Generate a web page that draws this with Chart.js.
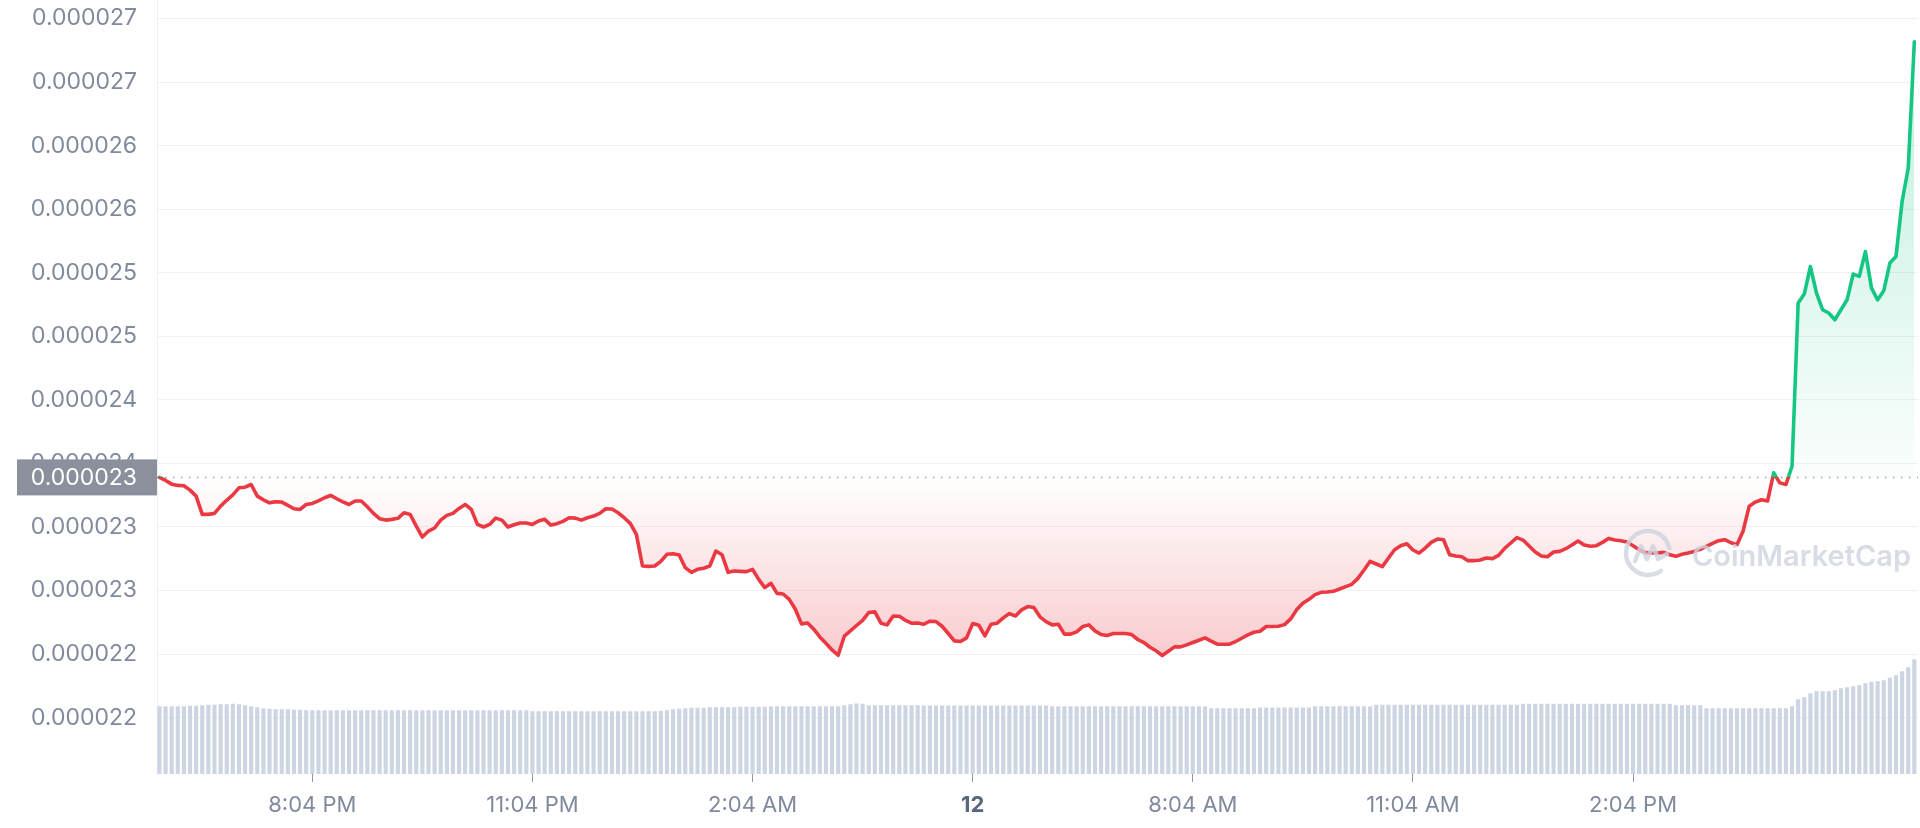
<!DOCTYPE html>
<html>
<head>
<meta charset="utf-8">
<script src="https://cdn.jsdelivr.net/npm/chart.js@4.4.1/dist/chart.umd.min.js"></script>
<style>
  html, body { margin: 0; padding: 0; background: #fff; }
  canvas { display: block; }
</style>
</head>
<body>
<canvas id="priceChart" width="1920" height="828"></canvas>
<script>
// price in USD x 1e-6, one point every 5 minutes (24h)
const price = [
  23.39, 23.366, 23.337, 23.327, 23.324, 23.29, 23.243, 23.099, 23.099, 23.107, 23.164, 23.21,
  23.253, 23.308, 23.313, 23.334, 23.243, 23.214, 23.19, 23.198, 23.196, 23.17, 23.143, 23.138,
  23.177, 23.185, 23.206, 23.23, 23.248, 23.222, 23.198, 23.177, 23.204, 23.204, 23.159, 23.107,
  23.065, 23.054, 23.06, 23.068, 23.112, 23.099, 23.007, 22.921, 22.968, 22.992, 23.054, 23.091,
  23.107, 23.146, 23.177, 23.138, 23.02, 23.0, 23.02, 23.07, 23.054, 23.0, 23.018, 23.031,
  23.031, 23.02, 23.047, 23.06, 23.015, 23.026, 23.044, 23.073, 23.07, 23.054, 23.073, 23.086,
  23.107, 23.143, 23.141, 23.112, 23.073, 23.028, 22.942, 22.693, 22.69, 22.693, 22.73, 22.785,
  22.79, 22.78, 22.68, 22.643, 22.667, 22.675, 22.693, 22.811, 22.782, 22.643, 22.654, 22.651,
  22.649, 22.667, 22.588, 22.523, 22.557, 22.478, 22.473, 22.431, 22.353, 22.238, 22.245, 22.196,
  22.135, 22.086, 22.033, 21.991, 22.141, 22.183, 22.225, 22.266, 22.327, 22.332, 22.243, 22.23,
  22.30, 22.298, 22.266, 22.243, 22.245, 22.235, 22.259, 22.256, 22.219, 22.162, 22.104, 22.099,
  22.128, 22.24, 22.227, 22.143, 22.235, 22.243, 22.285, 22.319, 22.30, 22.348, 22.374, 22.366,
  22.293, 22.256, 22.23, 22.235, 22.157, 22.157, 22.175, 22.217, 22.23, 22.183, 22.154, 22.146,
  22.162, 22.162, 22.162, 22.154, 22.115, 22.091, 22.054, 22.026, 21.989, 22.023, 22.057, 22.057,
  22.073, 22.091, 22.109, 22.128, 22.102, 22.078, 22.078, 22.078, 22.099, 22.125, 22.151, 22.172,
  22.18, 22.217, 22.217, 22.219, 22.232, 22.277, 22.35, 22.40, 22.431, 22.468, 22.486, 22.489,
  22.494, 22.512, 22.531, 22.549, 22.596, 22.662, 22.73, 22.709, 22.688, 22.756, 22.821, 22.853,
  22.868, 22.819, 22.795, 22.834, 22.879, 22.905, 22.9, 22.782, 22.772, 22.766, 22.735, 22.735,
  22.74, 22.756, 22.751, 22.777, 22.832, 22.874, 22.916, 22.897, 22.85, 22.803, 22.772, 22.766,
  22.803, 22.808, 22.829, 22.858, 22.89, 22.858, 22.848, 22.853, 22.879, 22.91, 22.897, 22.892,
  22.882, 22.853, 22.821, 22.798, 22.795, 22.795, 22.8, 22.782, 22.769, 22.785, 22.795, 22.808,
  22.824, 22.848, 22.871, 22.892, 22.9, 22.876, 22.861, 22.968, 23.164, 23.196, 23.214, 23.204,
  23.426, 23.347, 23.334, 23.478, 24.761, 24.832, 25.049, 24.84, 24.709, 24.683, 24.63, 24.709,
  24.787, 24.989, 24.971, 25.167, 24.879, 24.787, 24.858, 25.076, 25.128, 25.56, 25.822, 26.817
];

// volume, relative units
const volume = [
  68, 68, 68, 68, 68, 68.5, 68.5, 69, 69.5, 69.5, 70, 70,
  70.3, 70, 69, 68, 67, 66, 65.5, 65, 65, 65, 64.5, 64.5,
  64, 64, 64, 64, 64, 64, 64, 64, 64, 64, 64, 64,
  64, 64, 64, 64, 64, 64, 64, 64, 64, 64, 64, 64,
  64, 64, 64, 64, 64, 64, 64, 64, 64, 64, 64, 64,
  64, 63, 63, 63, 63, 63, 63, 63, 63, 63, 63, 63,
  63, 63, 63, 63, 63, 63, 63, 63, 63, 63, 63.5, 64,
  65, 65.5, 66, 66.5, 66.5, 66.5, 67, 67, 67, 67, 67, 67.5,
  67.5, 67.5, 67.5, 67.5, 68, 68, 68, 68, 68, 68, 68, 68,
  68, 68, 68, 68, 69, 70, 70.6, 70.5, 69, 69, 69, 69,
  69, 69, 69, 69, 69, 68.6, 68.6, 68.6, 68.6, 68.6, 68.6, 68.6,
  68.6, 68.6, 68.6, 68.6, 68.6, 68.6, 68.6, 68.6, 68.6, 68.6, 68.6, 68.6,
  68.6, 68.6, 68, 68, 68, 68, 68, 68, 68, 68, 68, 68,
  68, 68, 68, 68, 68, 68, 68, 68, 68, 68, 68, 68,
  68, 68, 68, 68, 66, 66, 66, 66, 66, 66, 66, 66,
  66.6, 66.6, 66.6, 66.6, 66.6, 66.6, 66.6, 66.6, 66.6, 68, 68, 68,
  68, 68, 68, 68, 68, 68, 68, 69.3, 69.3, 69.3, 69.3, 69.3,
  69.3, 69.3, 69.3, 69.3, 69.3, 69.3, 69.3, 69.3, 69.3, 69.3, 69.3, 69.3,
  69.3, 69.3, 69.3, 69.3, 69.3, 69.3, 69.3, 70.5, 70.5, 70.5, 70.5, 70.5,
  70.5, 70.5, 70.5, 70.5, 70.5, 70.5, 70.5, 70.5, 70.5, 70.5, 70.5, 70.5,
  70.5, 70.5, 70.5, 70.5, 70.5, 70.5, 70.5, 70.5, 69, 69, 69, 69,
  69, 66, 66, 66, 66, 66, 66, 66, 66, 66, 66, 66,
  66, 66, 66, 68, 75, 77, 81, 83, 83, 83, 84, 86,
  87, 88, 89, 91, 92.5, 93, 94, 96.5, 99, 103, 107, 115
];

// x axis: minutes since first sample
const tickMinutes = [125, 305, 485, 665, 845, 1025, 1205];
const tickLabels = ['8:04 PM', '11:04 PM', '2:04 AM', '12', '8:04 AM', '11:04 AM', '2:04 PM'];
const priceTicks = [21.5, 22, 22.5, 23, 23.5, 24, 24.5, 25, 25.5, 26, 26.5, 27];
const openPrice = price[0];

const minutes = price.map((p, i) => i * 5);
const GREEN = '#16c784', RED = '#ea3943', GREY = '#808a9d';
const FONT = 'Inter, "Noto Sans", sans-serif';

function fmt(v) { return (Math.round(v) / 1e6).toFixed(6); }

// dotted open-price line, price badge and watermark
var extras = {
  id: 'extras',
  beforeDatasetsDraw(chart) {
    var c = chart.ctx, a = chart.chartArea;
    var y = chart.scales.y.getPixelForValue(openPrice);
    c.save();
    c.setLineDash([1.5, 6.5]);
    c.strokeStyle = '#9aa1b1';
    c.lineWidth = 1.5;
    c.beginPath(); c.moveTo(a.left, y); c.lineTo(a.right, y); c.stroke();
    c.restore();
  },
  afterDatasetsDraw(chart) {
    var c = chart.ctx;
    var cx = 1648, cy = 553;
    c.save();
    c.globalAlpha = 0.8;
    c.strokeStyle = '#cdd3df';
    c.fillStyle = '#cdd3df';
    c.lineWidth = 4.5;
    c.lineCap = 'round';
    c.lineJoin = 'round';
    c.beginPath(); c.arc(cx, cy, 22, 0.3 * Math.PI, 1.93 * Math.PI); c.stroke();
    c.beginPath();
    c.moveTo(cx - 13, cy + 8); c.lineTo(cx - 7, cy - 7); c.lineTo(cx - 1, cy + 6);
    c.lineTo(cx + 5, cy - 7); c.lineTo(cx + 10, cy + 6); c.lineTo(cx + 19, cy + 1);
    c.stroke();
    c.font = '600 29px ' + FONT;
    c.textAlign = 'right';
    c.textBaseline = 'alphabetic';
    c.fillText('CoinMarketCap', 1911, 566);
    c.restore();
  },
  afterDraw(chart) {
    var c = chart.ctx, a = chart.chartArea;
    var y = chart.scales.y.getPixelForValue(openPrice);
    c.save();
    c.fillStyle = 'rgb(139,144,156)';
    c.fillRect(17, y - 18, a.left - 17, 36);
    c.fillStyle = '#ffffff';
    c.font = '23px ' + FONT;
    c.textAlign = 'right';
    c.textBaseline = 'middle';
    c.fillText(fmt(openPrice), a.left - 20, y + 1);
    c.restore();
  }
};

var ctx = document.getElementById('priceChart').getContext('2d');

var chart = new Chart(ctx, {
  type: 'line',
  data: {
    datasets: [{
      type: 'line',
      label: 'Price',
      data: minutes.map((m, i) => ({x: m, y: price[i]})),
      yAxisID: 'y',
      borderColor: RED,
      borderWidth: 3.6,
      borderJoinStyle: 'round',
      borderCapStyle: 'round',
      pointRadius: 0,
      tension: 0,
      fill: {target: {value: openPrice}, above: 'rgba(22,199,132,0.12)', below: 'rgba(234,57,67,0.12)'},
      order: 1
    }, {
      type: 'bar',
      label: 'Volume',
      data: minutes.map((m, i) => ({x: m, y: volume[i]})),
      yAxisID: 'yv',
      backgroundColor: '#cdd4e2',
      barPercentage: 0.68,
      categoryPercentage: 1,
      order: 2
    }]
  },
  options: {
    responsive: false,
    animation: false,
    layout: {padding: {right: 2, top: 0, bottom: 0, left: 0}},
    plugins: {legend: {display: false}, tooltip: {enabled: false}},
    scales: {
      x: {
        type: 'linear', min: -2, max: 1438, offset: false,
        grid: {drawOnChartArea: false, offset: false, tickLength: 8, color: '#8f96a8'},
        border: {display: false},
        afterBuildTicks: s => { s.ticks = tickMinutes.map(v => ({value: v})); },
        afterFit: s => { s.height = 54; s.paddingLeft = 0; s.paddingRight = 0; },
        ticks: {
          autoSkip: false, maxRotation: 0, padding: 10,
          color: c => c.index === 3 ? '#58667e' : GREY,
          font: c => ({family: FONT, size: 22, weight: c.index === 3 ? 'bold' : 'normal'}),
          callback: (v, i) => tickLabels[i]
        }
      },
      y: {
        position: 'left', min: 21.057, max: 27.131,
        grid: {color: '#eff2f5', drawTicks: false},
        border: {color: '#eceff3'},
        afterBuildTicks: s => { s.ticks = priceTicks.map(v => ({value: v})); },
        afterFit: s => { s.width = 157; s.paddingTop = 0; s.paddingBottom = 0; },
        ticks: {padding: 20, color: GREY, font: {family: FONT, size: 23}, callback: v => fmt(v)}
      },
      yv: {display: false, min: 0, max: 774}
    }
  },
  plugins: [extras]
});

// colour the line and its fill around the open price
(function () {
  var a = chart.chartArea, ys = chart.scales.y;
  var yBase = ys.getPixelForValue(openPrice);
  var yLow = ys.getPixelForValue(Math.min.apply(null, price));
  var yHigh = ys.getPixelForValue(Math.max.apply(null, price));
  var stop = (yBase - a.top) / (a.bottom - a.top);
  var line = ctx.createLinearGradient(0, a.top, 0, a.bottom);
  line.addColorStop(0, GREEN); line.addColorStop(stop, GREEN);
  line.addColorStop(stop, RED); line.addColorStop(1, RED);
  var up = ctx.createLinearGradient(0, yHigh, 0, yBase);
  up.addColorStop(0, 'rgba(22,199,132,0.28)');
  up.addColorStop(1, 'rgba(22,199,132,0.02)');
  var down = ctx.createLinearGradient(0, yBase, 0, yLow);
  down.addColorStop(0, 'rgba(234,57,67,0.0)');
  down.addColorStop(1, 'rgba(234,57,67,0.26)');
  var ds = chart.data.datasets[0];
  ds.borderColor = line;
  ds.fill = {target: {value: openPrice}, above: up, below: down};
  chart.update('none');
})();
</script>
</body>
</html>
